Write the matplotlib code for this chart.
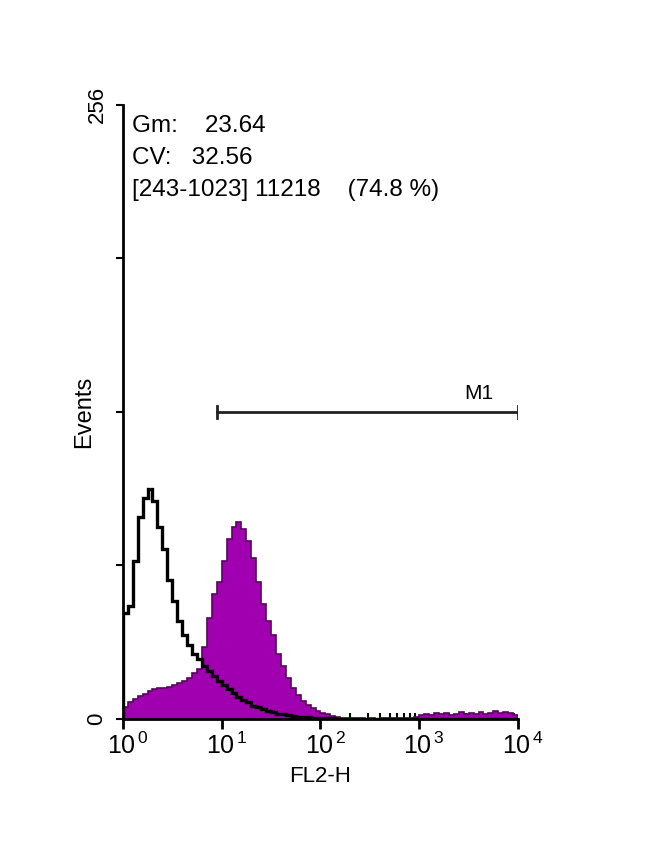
import numpy as np
from matplotlib import pyplot as plt
import matplotlib.transforms as mtransforms

plt.rcParams['font.family'] = ['Liberation Sans', 'DejaVu Sans']
plt.rcParams['mathtext.fontset'] = 'custom'
plt.rcParams['mathtext.rm'] = 'Liberation Sans'

# histogram bins in decades (0.05 decade per bin, 10^0 .. 10^4)
bin_step = 0.05
# control (open, black outline)
control = [44, 47, 66, 84, 92, 96, 91, 80, 71, 58,
           49, 41, 35, 31, 27, 25, 22, 20, 18, 16,
           14, 12.5, 11, 9, 8, 7, 5.5, 5, 4, 3.5,
           3, 2.2, 2, 1.6, 1.3, 1, 0.8, 0.7, 0.6, 0.5,
           0.5, 0.3, 0.3, 0.2, 0.2, 0.1, 0, 0, 0, 0,
           0, 0, 0, 0, 0, 0, 0, 0, 0, 0,
           0, 0, 0, 0, 0, 0, 0, 0, 0, 0,
           0, 0, 0, 0, 0, 0, 0, 0, 0, 0]
# stained (filled purple)
stained = [5, 7, 8.5, 9.5, 10.5, 11.5, 12.5, 13, 13, 13.5,
           14, 15, 16, 17, 19, 21, 30, 42, 52, 57,
           66, 75, 80, 82, 79, 74, 67, 57, 48, 41,
           35, 27, 22, 17, 13, 10, 7.5, 6, 4.5, 3.5,
           2.5, 2, 1.2, 1, 0.6, 0.5, 0.4, 0.3, 0.3, 0.2,
           0.3, 0.2, 0.3, 0.3, 0.4, 0.3, 0.4, 0.5, 0.6, 0.8,
           1.8, 2.2, 1.6, 2.4, 1.9, 2.6, 1.7, 2.2, 2.8, 1.9,
           2.5, 2.1, 2.9, 2.2, 2.6, 3.2, 2.4, 3.0, 2.6, 1.8]

stats = ['Gm:    23.64', 'CV:   32.56', '[243-1023] 11218    (74.8 %)']
marker_range = (243, 1023)  # channels of 1024 -> 4 decades
marker_label = 'M1'
xticks = [1, 10, 100, 1000, 10000]
xticklabels = [r'$\mathregular{10^{\,%d}}$' % i for i in range(5)]

edges = 10 ** (np.arange(len(stained) + 1) * bin_step)

fig = plt.figure(figsize=(6.5, 8.59), dpi=100)
ax = fig.add_axes([0.189, 0.163, 0.608, 0.715])

ax.stairs(stained, edges, fill=True, color='#a000b0', zorder=2)
ax.stairs(stained, edges, color='#5a0060', lw=1.2, zorder=3)
ax.stairs(control, edges, color='black', lw=2.4, zorder=4)

ax.set_xscale('log')
ax.set_xlim(1, 10000)
ax.set_ylim(0, 256)

for s in ['top', 'right']:
    ax.spines[s].set_visible(False)
for s in ['left', 'bottom']:
    ax.spines[s].set_linewidth(2)

ax.set_xticks(xticks)
ax.set_xticklabels(xticklabels, fontsize=18)
ax.tick_params(axis='x', which='major', direction='out', length=7, width=2, pad=3)
ax.tick_params(axis='x', which='minor', direction='in', length=4, width=1.5)
offset = mtransforms.ScaledTranslation(5 / 100, 0, fig.dpi_scale_trans)
for lab in ax.get_xticklabels():
    lab.set_transform(lab.get_transform() + offset)
ax.set_yticks([0, 64, 128, 192, 256])
ax.set_yticklabels(['0', '', '', '', '256'], rotation=90, fontsize=16, va='center')
ax.tick_params(axis='y', direction='out', length=5, width=1.5, pad=6)

ax.set_xlabel('FL2-H', fontsize=16, labelpad=5)
ax.set_ylabel('Events', fontsize=17, labelpad=-6)

# marker M1
x0 = 10 ** (marker_range[0] / 1024 * 4)
x1 = 10 ** (marker_range[1] / 1024 * 4 + 4 / 1024)
ax.plot([x0, x1], [128, 128], color='#222222', lw=2, zorder=5)
ax.plot([x0, x0], [125.5, 130.5], color='#222222', lw=2)
ax.plot([x1, x1], [125.5, 130.5], color='#222222', lw=2)
ax.text(10 ** 3.46, 131.5, marker_label, fontsize=15, ha='left', va='bottom')

for i, t in enumerate(stats):
    ax.text(0.022, 0.983 - i * 0.052, t, transform=ax.transAxes,
            fontsize=17.5, ha='left', va='top')

fig.savefig('out.png', dpi=100)
